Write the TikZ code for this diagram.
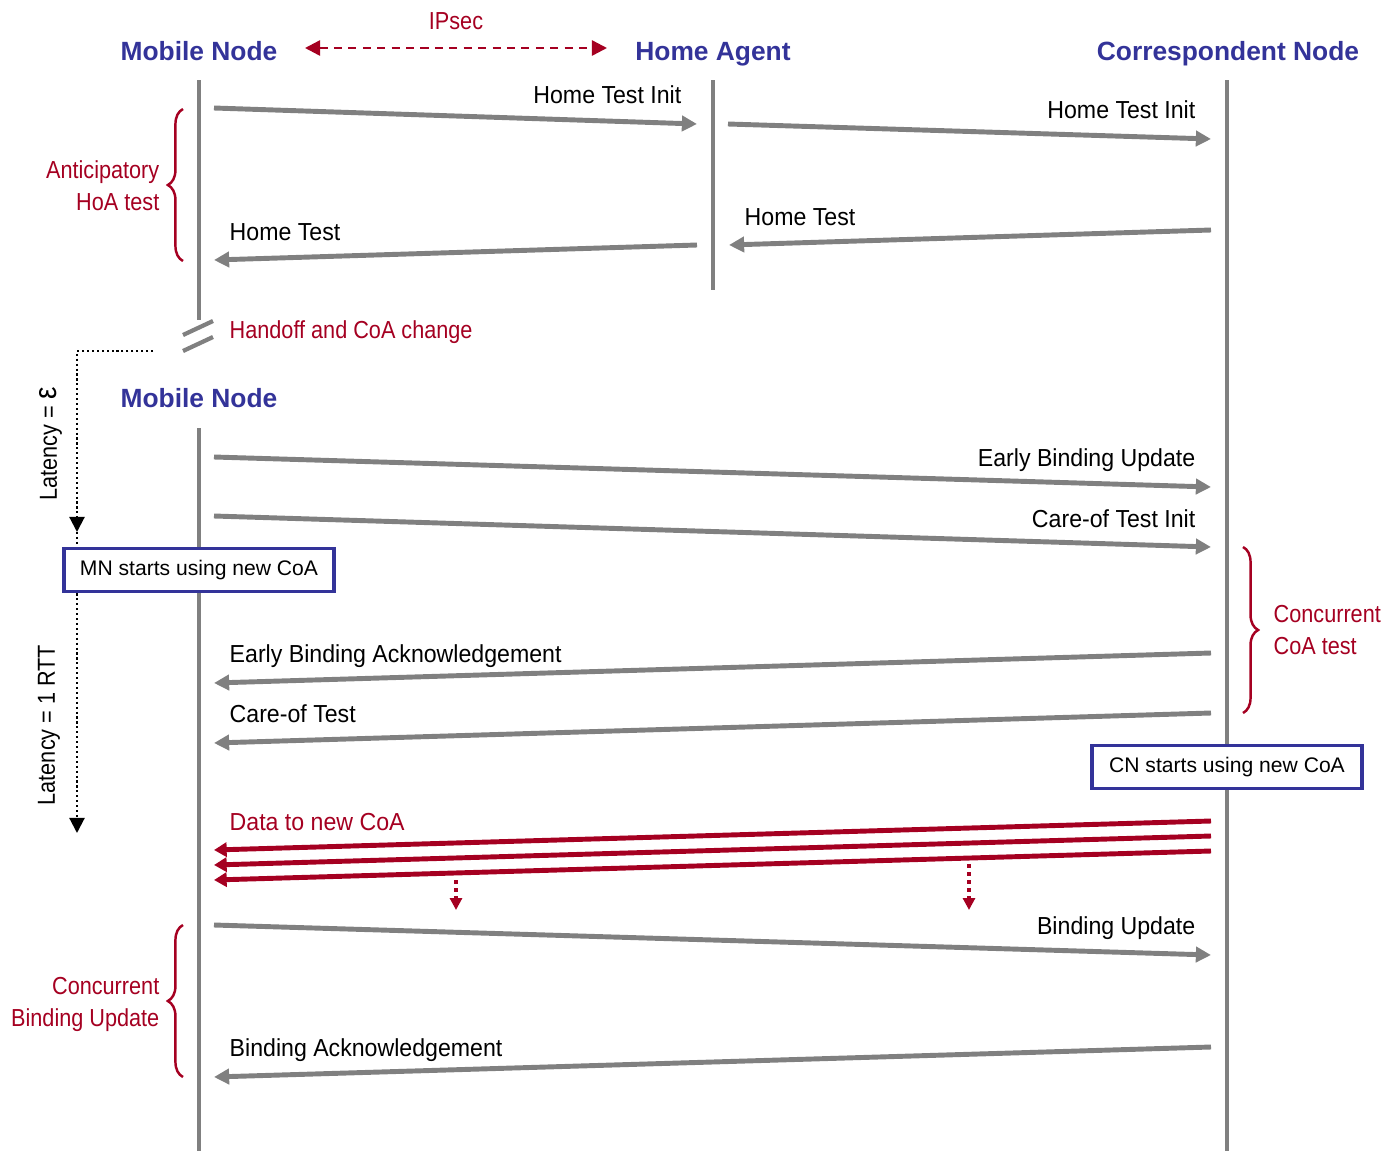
\documentclass[tikz,border=0pt]{standalone}
\usepackage{fontspec}
\setmainfont{Liberation Sans}
\newfontfamily\notefont{Liberation Sans}[FakeStretch=0.88]
\newfontfamily\lblfont{Liberation Sans}[FakeStretch=0.94]
\usetikzlibrary{arrows.meta}
\usetikzlibrary{positioning}
\usetikzlibrary{decorations.pathreplacing}

\definecolor{headblue}{HTML}{333399}
\definecolor{darkred}{HTML}{A50021}
\definecolor{linegray}{HTML}{808080}

\tikzset{
  lifeline/.style={linegray, line width=1.4pt},
  msg/.style={linegray, line width=1.4pt, -{Triangle[length=4.3pt,width=4.3pt]}},
  datamsg/.style={darkred, line width=1.4pt, -{Triangle[length=3.6pt,width=4pt]}},
  head/.style={headblue, inner sep=0pt, font=\fontsize{7.5}{9}\selectfont\bfseries},
  lbl/.style={inner sep=0pt, font=\lblfont\fontsize{7}{8}\selectfont},
  note/.style={darkred, inner sep=0pt, font=\notefont\fontsize{7}{9.1}\selectfont},
  startbox/.style={draw=headblue, line width=1.1pt, fill=white, inner sep=0pt,
    minimum width=76.8pt, minimum height=12.2pt, font=\fontsize{6}{7}\selectfont},
  grouping/.style={darkred, line width=0.7pt, decorate, decoration={brace, amplitude=4.3pt}},
  latency/.style={black, line width=0.6pt, dash pattern=on 0.6pt off 0.8pt},
  reddots/.style={darkred, line width=1pt, dash pattern=on 1pt off 1.3pt,
    -{Triangle[length=3.4pt,width=3.4pt]}},
}

\begin{document}
\begin{tikzpicture}[x=0.01cm, y=-0.01cm, >={Triangle[length=4.3pt,width=4.3pt]}]
  \useasboundingbox (0,0) rectangle (1387,1151);

  % heads and lifelines
  \node[head, anchor=base] (mn)  at (199,60)  {Mobile Node};
  \node[head, anchor=base] (ha)  at (713,60)  {Home Agent};
  \node[head, anchor=base] (cn)  at (1228,60) {Correspondent Node};
  \node[head, anchor=base] (mn2) at (199,407) {Mobile Node};

  \coordinate (mn top) at (199,80);   \coordinate (mn cut) at (199,320);
  \coordinate (mn2 top) at (199,428); \coordinate (mn bot) at (199,1151);
  \coordinate (ha top) at (713,80);   \coordinate (ha bot) at (713,290);
  \coordinate (cn top) at (1227,80);  \coordinate (cn bot) at (1227,1151);
  \draw[lifeline] (mn top) -- (mn cut);
  \draw[lifeline] (mn2 top) -- (mn bot);
  \draw[lifeline] (ha top) -- (ha bot);
  \draw[lifeline] (cn top) -- (cn bot);

  % handoff break
  \draw[lifeline, line width=1.2pt] (183,335) -- (213,321);
  \draw[lifeline, line width=1.2pt] (183,351) -- (213,337);
  \node[note, anchor=base west] (handoff) at (229,338) {Handoff and CoA change};

  % IPsec
  \coordinate (ipsec l) at (305,48);
  \coordinate (ipsec r) at (607,48);
  \draw[darkred, line width=0.7pt, dash pattern=on 2.3pt off 1.8pt, <->] (ipsec l) -- (ipsec r);
  \node[note, anchor=base] (ipsec) at (456,29) {IPsec};

  % messages
  \foreach \n/\xa/\ya/\xb/\yb in {hti1/214/108/697/124, hti2/728/124/1211/139,
      ht1/1211/230/729/245, ht2/697/245/214/260, ebu/214/457/1211/487,
      coti/214/516/1211/547, eba/1211/653/214/683, cot/1211/713/214/743,
      bu/214/925/1211/955, ba/1211/1047/214/1077}
  {
    \coordinate (\n-a) at (\xa,\ya);
    \coordinate (\n-b) at (\xb,\yb);
    \draw[msg] (\n-a) -- (\n-b);
  }
  \node[lbl, anchor=base east] (hti1) at (682,103)  {Home Test Init};
  \node[lbl, anchor=base east] (hti2) at (1196,118) {Home Test Init};
  \node[lbl, anchor=base west] (ht1)  at (744,225)  {Home Test};
  \node[lbl, anchor=base west] (ht2)  at (229,240)  {Home Test};
  \node[lbl, anchor=base east] (ebu)  at (1196,466) {Early Binding Update};
  \node[lbl, anchor=base east] (coti) at (1196,527) {Care-of Test Init};
  \node[lbl, anchor=base west] (eba)  at (229,662)  {Early Binding Acknowledgement};
  \node[lbl, anchor=base west] (cot)  at (229,722)  {Care-of Test};
  \node[lbl, anchor=base east] (bu)   at (1196,934) {Binding Update};
  \node[lbl, anchor=base west] (ba)   at (229,1056) {Binding Acknowledgement};

  % data to new CoA
  \foreach \i/\ya/\yb in {1/821/850, 2/836/865, 3/851/880}
  {
    \coordinate (data\i-a) at (1211,\ya);
    \coordinate (data\i-b) at (214,\yb);
    \draw[datamsg] (data\i-a) -- (data\i-b);
  }
  \node[note, anchor=base west, font=\lblfont\fontsize{7}{8}\selectfont] (data) at (229,830) {Data to new CoA};
  \coordinate (drop1-a) at (456,880); \coordinate (drop1-b) at (456,910);
  \coordinate (drop2-a) at (969,864); \coordinate (drop2-b) at (969,910);
  \draw[reddots] (drop1-a) -- (drop1-b);
  \draw[reddots] (drop2-a) -- (drop2-b);

  % braces
  \coordinate (ant top) at (183,109);  \coordinate (ant bot) at (183,261);
  \coordinate (coa top) at (1243,547); \coordinate (coa bot) at (1243,713);
  \coordinate (cbu top) at (183,925);  \coordinate (cbu bot) at (183,1077);
  \draw[grouping] (ant bot) -- (ant top);
  \draw[grouping] (coa top) -- (coa bot);
  \draw[grouping] (cbu bot) -- (cbu top);
  \node[note, align=right, anchor=east] (ant) at (160,186) {Anticipatory\\HoA test};
  \node[note, align=left, anchor=west] (coa) at (1273,630) {Concurrent\\CoA test};
  \node[note, align=right, anchor=east] (cbu) at (160,1004) {Concurrent\\Binding Update};

  % start boxes
  \node[startbox] (mnbox) at (199,570) {\raisebox{-0.5pt}{MN starts using new CoA}};
  \node[startbox] (cnbox) at (1227,767) {\raisebox{-0.5pt}{CN starts using new CoA}};

  % latency
  \coordinate (eps start) at (153,351);
  \coordinate (eps corner) at (77,351);
  \coordinate (eps end) at (77,532);
  \coordinate (rtt end) at (77,833);
  \draw[latency, ->] (eps start) -- (eps corner) -- (eps end);
  \draw[latency] (eps end) -- (mnbox.north -| eps end);
  \draw[latency, ->] (mnbox.south -| rtt end) -- (rtt end);
  \node[lbl, font=\notefont\fontsize{7}{8}\selectfont, rotate=90] (lat eps) at (51,444) {Latency = {\fontsize{9}{9}\selectfont ε}};
  \node[lbl, font=\notefont\fontsize{7}{8}\selectfont, rotate=90] (lat rtt) at (49,725) {Latency = 1 RTT};
\end{tikzpicture}
\end{document}
